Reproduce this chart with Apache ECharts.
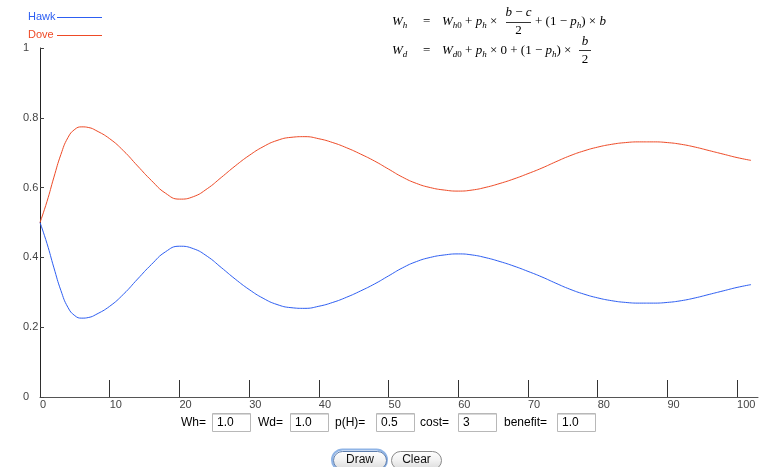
<!DOCTYPE html>
<html>
<head>
<meta charset="utf-8">
<title>Hawk / Dove</title>
<script src="https://cdn.jsdelivr.net/npm/echarts@6/dist/echarts.min.js"></script>
<style>
  html, body { margin: 0; padding: 0; background: #fff; }
  #chart { width: 764px; height: 467px; }
</style>
</head>
<body>
<div id="chart"></div>
<script>
var steps = [0, 1, 2, 3, 4, 5, 6, 7, 8, 10, 12, 14, 16, 18, 20, 22, 24, 26, 28, 30, 32, 34, 36, 38, 40,
  42, 44, 46, 48, 50, 52, 54, 56, 58, 60, 62, 64, 66, 68, 70, 72, 74, 76, 78, 80, 82, 84, 86, 88,
  90, 92, 94, 96, 98, 100, 102]
var hawkData = [0.500, 0.440, 0.370, 0.305, 0.257, 0.233, 0.226, 0.228, 0.236, 0.260, 0.295, 0.338, 0.380,
  0.416, 0.432, 0.425, 0.403, 0.371, 0.338, 0.308, 0.283, 0.265, 0.256, 0.254, 0.260, 0.271, 0.286,
  0.304, 0.324, 0.347, 0.370, 0.388, 0.400, 0.407, 0.410, 0.407, 0.399, 0.388, 0.375, 0.360, 0.344,
  0.326, 0.309, 0.295, 0.284, 0.276, 0.271, 0.269, 0.269, 0.271, 0.276, 0.284, 0.294, 0.304, 0.314, 0.322]
var doveData = [0.500, 0.560, 0.630, 0.695, 0.743, 0.767, 0.774, 0.772, 0.764, 0.740, 0.705, 0.662, 0.620,
  0.584, 0.567, 0.574, 0.597, 0.629, 0.662, 0.692, 0.717, 0.735, 0.744, 0.746, 0.740, 0.729, 0.714,
  0.696, 0.676, 0.653, 0.630, 0.612, 0.600, 0.593, 0.590, 0.593, 0.601, 0.612, 0.625, 0.640, 0.656,
  0.674, 0.691, 0.705, 0.716, 0.724, 0.729, 0.731, 0.731, 0.729, 0.724, 0.716, 0.706, 0.696, 0.686, 0.678]
var seriesNames = ['Hawk', 'Dove']
var xTicks = [0, 10, 20, 30, 40, 50, 60, 70, 80, 90, 100]
var yTicks = [0, 0.2, 0.4, 0.6, 0.8, 1]
var inputLabels = ['Wh=', 'Wd=', 'p(H)=', 'cost=', 'benefit=']
var inputValues = ['1.0', '1.0', '0.5', '3', '1.0']
var buttonLabels = ['Draw', 'Clear']

var colors = ['#2d5ef2', '#ee4a26']
var serif = '"Liberation Serif", "DejaVu Serif", serif'
var sans = '"Liberation Sans", Arial, sans-serif'

// layout of the form under the chart
var labelX = [181, 258, 335, 420, 504]
var boxX = [212, 290, 376, 458, 557]
var buttonX = [333, 391]
var buttonW = [53, 50]

function pairs (ys) {
  return steps.map(function (x, i) {
    return [x, ys[i]]
  })
}

var rich = {
  m: { fontFamily: serif, fontStyle: 'italic', fontSize: 13, lineHeight: 16, color: '#000' },
  r: { fontFamily: serif, fontSize: 13, lineHeight: 16, color: '#000' },
  s: { fontFamily: serif, fontStyle: 'italic', fontSize: 9, lineHeight: 9, verticalAlign: 'bottom', color: '#000' },
  sr: { fontFamily: serif, fontSize: 9, lineHeight: 9, verticalAlign: 'bottom', color: '#000' }
}

function mathText (x, y, str, align) {
  return {
    type: 'text',
    x: x,
    y: y,
    style: { text: str, rich: rich, align: align || 'left', verticalAlign: 'middle' }
  }
}

function rule (x1, x2, y) {
  return {
    type: 'line',
    shape: { x1: x1, y1: y, x2: x2, y2: y },
    style: { stroke: '#000', lineWidth: 0.8 }
  }
}

function buildGraphic () {
  var g = []
  // legend
  seriesNames.forEach(function (name, i) {
    var y = 17 + i * 18
    g.push({ type: 'text', x: 28, y: y, style: { text: name, fill: colors[i], font: '11px ' + sans, verticalAlign: 'middle' } })
    g.push({ type: 'line', shape: { x1: 57, y1: y + 0.5, x2: 102, y2: y + 0.5 }, style: { stroke: colors[i], lineWidth: 1 } })
  })

  // formulas
  g.push(mathText(392, 22, '{m|W}{s|h}'))
  g.push(mathText(423, 22, '{r|=}'))
  g.push(mathText(442, 22, '{m|W}{s|h}{sr|0}{r| + }{m|p}{s|h}{r| × }'))
  g.push(mathText(518.5, 13, '{m|b}{r| − }{m|c}', 'center'))
  g.push(rule(506, 531, 22.5))
  g.push(mathText(518.5, 31, '{r|2}', 'center'))
  g.push(mathText(535, 22, '{r|+ (1 − }{m|p}{s|h}{r|) × }{m|b}'))

  g.push(mathText(392, 51, '{m|W}{s|d}'))
  g.push(mathText(423, 51, '{r|=}'))
  g.push(mathText(442, 51, '{m|W}{s|d}{sr|0}{r| + }{m|p}{s|h}{r| × 0 + (1 − }{m|p}{s|h}{r|) × }'))
  g.push(mathText(585, 42, '{m|b}', 'center'))
  g.push(rule(579, 591, 50.5))
  g.push(mathText(585, 60, '{r|2}', 'center'))

  // inputs
  inputLabels.forEach(function (label, i) {
    g.push({ type: 'text', x: labelX[i], y: 423, style: { text: label, fill: '#000', font: '12px ' + sans, verticalAlign: 'middle' } })
    g.push({ type: 'rect', shape: { x: boxX[i] + 0.5, y: 413.5, width: 38, height: 18 }, style: { fill: '#fff', stroke: '#b8b8b8', lineWidth: 1 } })
    g.push({ type: 'line', shape: { x1: boxX[i] + 1, y1: 414.5, x2: boxX[i] + 38, y2: 414.5 }, style: { stroke: '#d8d8d8', lineWidth: 1 } })
    g.push({ type: 'text', x: boxX[i] + 5, y: 423, style: { text: inputValues[i], fill: '#000', font: '12px ' + sans, verticalAlign: 'middle' } })
  })

  // buttons
  buttonLabels.forEach(function (label, i) {
    var x = buttonX[i]
    if (i === 0) {
      g.push({ type: 'rect', shape: { x: x - 1, y: 449.5, width: buttonW[i] + 2, height: 21, r: 10.5 }, style: { fill: 'none', stroke: '#8fb4e6', lineWidth: 2 } })
    }
    g.push({
      type: 'rect',
      shape: { x: x + 0.5, y: 451.5, width: buttonW[i], height: 18, r: 9 },
      style: {
        fill: new echarts.graphic.LinearGradient(0, 0, 0, 1, [
          { offset: 0, color: '#ffffff' }, { offset: 0.5, color: '#f1f1f1' }, { offset: 1, color: '#d9d9d9' }
        ]),
        stroke: i === 0 ? '#5f7fae' : '#8a8a8a',
        lineWidth: 1
      }
    })
    g.push({ type: 'text', x: x + buttonW[i] / 2 + 0.5, y: 460, style: { text: label, fill: '#111', font: '12px ' + sans, align: 'center', verticalAlign: 'middle' } })
  })
  return g
}

var chart = echarts.init(document.getElementById('chart'))
chart.setOption({
  animation: false,
  backgroundColor: '#fff',
  grid: { left: 40, right: 6, top: 48, bottom: 70 },
  xAxis: {
    type: 'value',
    min: 0,
    max: 103,
    axisLine: { lineStyle: { color: '#555', width: 1 } },
    axisTick: { inside: true, length: 17, customValues: xTicks, lineStyle: { color: '#333' } },
    axisLabel: { customValues: xTicks, align: 'left', margin: 2, fontSize: 11, fontFamily: sans, color: '#444' },
    splitLine: { show: false }
  },
  yAxis: {
    type: 'value',
    min: 0,
    max: 1,
    axisLine: { show: true, lineStyle: { color: '#222', width: 1 } },
    axisTick: { show: true, inside: true, length: 4, customValues: yTicks, lineStyle: { color: '#444' } },
    axisLabel: { customValues: yTicks, align: 'left', margin: 17, fontSize: 11, fontFamily: sans, color: '#444' },
    splitLine: { show: false }
  },
  series: [{
    name: seriesNames[0],
    type: 'line',
    smooth: true,
    showSymbol: false,
    lineStyle: { color: colors[0], width: 1 },
    data: pairs(hawkData)
  }, {
    name: seriesNames[1],
    type: 'line',
    smooth: true,
    showSymbol: false,
    lineStyle: { color: colors[1], width: 1 },
    data: pairs(doveData)
  }],
  graphic: buildGraphic()
})
</script>
</body>
</html>
